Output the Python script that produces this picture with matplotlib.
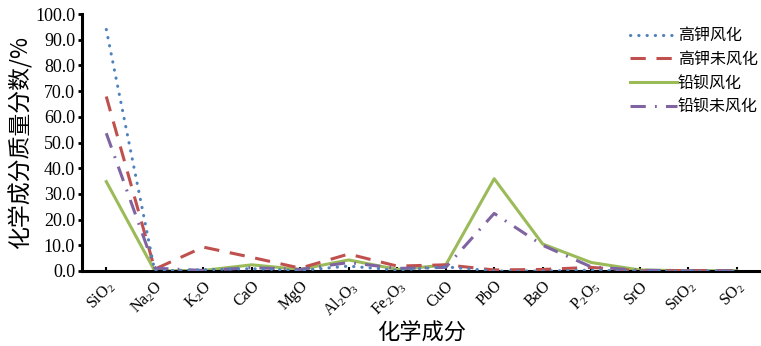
import matplotlib
matplotlib.use("Agg")
import matplotlib.pyplot as plt
import numpy as np

plt.rcParams['font.family'] = ['Liberation Serif', 'Noto Sans CJK SC']
plt.rcParams['mathtext.fontset'] = 'custom'
plt.rcParams['mathtext.rm'] = 'Liberation Serif'
plt.rcParams['mathtext.it'] = 'Liberation Serif:italic'

# 化学成分
components = [r'SiO$_\mathregular{2}$', r'Na$_\mathregular{2}$O', r'K$_\mathregular{2}$O', 'CaO', 'MgO',
              r'Al$_\mathregular{2}$O$_\mathregular{3}$', r'Fe$_\mathregular{2}$O$_\mathregular{3}$',
              'CuO', 'PbO', 'BaO', r'P$_\mathregular{2}$O$_\mathregular{5}$', 'SrO',
              r'SnO$_\mathregular{2}$', r'SO$_\mathregular{2}$']

# 平均质量分数 (%)
high_k_weathered = [94.0, 0.0, 0.5, 0.9, 0.2, 1.9, 0.3, 1.6, 0.0, 0.0, 0.3, 0.0, 0.0, 0.0]
high_k_unweathered = [67.9, 0.7, 9.3, 5.3, 1.1, 6.6, 1.9, 2.4, 0.4, 0.6, 1.4, 0.04, 0.2, 0.1]
pb_ba_weathered = [34.8, 0.0, 0.2, 2.4, 0.6, 4.3, 0.6, 2.3, 35.9, 10.5, 3.3, 0.4, 0.1, 0.1]
pb_ba_unweathered = [53.6, 1.1, 0.2, 1.3, 0.6, 3.3, 1.0, 1.4, 22.4, 10.0, 1.6, 0.3, 0.05, 0.05]

series_labels = ['高钾风化', '高钾未风化', '铅钡风化', '铅钡未风化']

fig = plt.figure(figsize=(7.61, 3.46), dpi=100)
ax = fig.add_axes([0.1078, 0.2168, 0.892, 0.7427])

x = np.arange(len(components))
ax.plot(x, high_k_weathered, color='#4F81BD', lw=2.2, linestyle=(0, (0.1, 2.6)),
        dash_capstyle='round', label=series_labels[0], zorder=4)
ax.plot(x, high_k_unweathered, color='#C0504D', lw=2.2, linestyle=(0, (5, 3.5)),
        label=series_labels[1], zorder=3)
ax.plot(x, pb_ba_weathered, color='#9BBB59', lw=2.2, linestyle='-',
        label=series_labels[2], zorder=2)
ax.plot(x, pb_ba_unweathered, color='#8064A2', lw=2.2, linestyle=(0, (5, 3, 0.6, 3)),
        label=series_labels[3], zorder=3)

ax.set_xlim(-0.5, len(components) - 0.5)
ax.set_ylim(0, 100)
ax.set_yticks(np.arange(0, 101, 10))
ax.set_yticklabels([f'{v:.1f}' for v in np.arange(0, 101, 10)], fontsize=13)
ax.set_xticks(x)
ax.set_xticklabels(components, rotation=45, ha='right', rotation_mode='anchor', fontsize=11.5)

for side in ['top', 'right']:
    ax.spines[side].set_visible(False)
ax.spines['left'].set_linewidth(2.2)
ax.spines['bottom'].set_linewidth(2.2)
ax.tick_params(axis='y', direction='out', length=3, width=2, pad=2)
ax.tick_params(axis='x', direction='in', length=3, width=1.5, pad=5)

ax.set_ylabel('化学成分质量分数/%', family=['Noto Sans CJK SC'], fontsize=16.5, labelpad=2)
ax.set_xlabel('化学成分', family=['Noto Sans CJK SC'], fontsize=16, labelpad=1)

leg = ax.legend(loc='upper left', bbox_to_anchor=(0.82, 0.94), bbox_transform=fig.transFigure,
                frameon=False, handlelength=2.9, handletextpad=0.05, labelspacing=0.42,
                borderaxespad=0, prop={'family': 'Noto Sans CJK SC', 'size': 11.5})

fig.savefig('out.png', dpi=100)
